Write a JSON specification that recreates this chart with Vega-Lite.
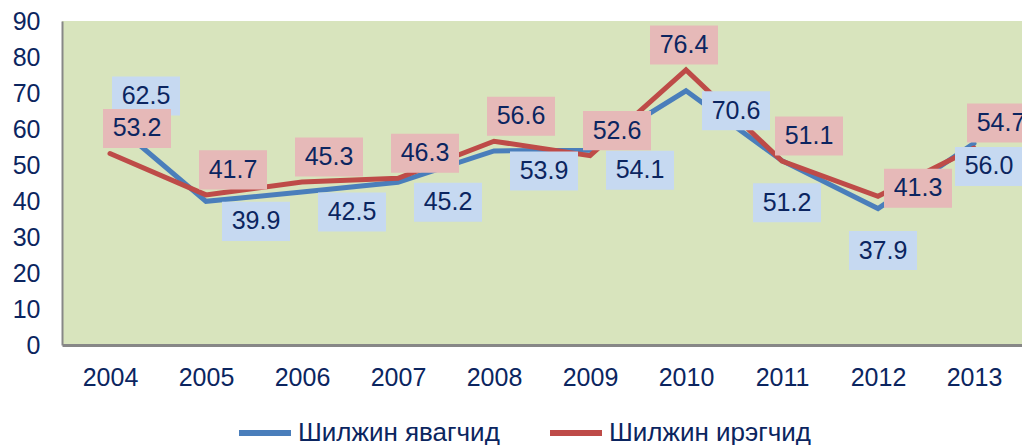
{
  "$schema": "https://vega.github.io/schema/vega-lite/v6.json",
  "width": 960,
  "height": 324,
  "autosize": "none",
  "padding": {"left": 62, "top": 21, "right": 0, "bottom": 100},
  "config": {
    "font": "Liberation Sans",
    "view": {"fill": "#d8e4bd", "stroke": null},
    "axis": {"grid": false, "ticks": false, "title": null, "labelFont": "Liberation Sans", "labelFontSize": 25, "labelColor": "#0b2560", "domainColor": "#878787"}
  },
  "datasets": {
    "d": [
      {"year": "2004", "series": "Шилжин явагчид", "value": 62.5},
      {"year": "2005", "series": "Шилжин явагчид", "value": 39.9},
      {"year": "2006", "series": "Шилжин явагчид", "value": 42.5},
      {"year": "2007", "series": "Шилжин явагчид", "value": 45.2},
      {"year": "2008", "series": "Шилжин явагчид", "value": 53.9},
      {"year": "2009", "series": "Шилжин явагчид", "value": 54.1},
      {"year": "2010", "series": "Шилжин явагчид", "value": 70.6},
      {"year": "2011", "series": "Шилжин явагчид", "value": 51.2},
      {"year": "2012", "series": "Шилжин явагчид", "value": 37.9},
      {"year": "2013", "series": "Шилжин явагчид", "value": 56.0},
      {"year": "2004", "series": "Шилжин ирэгчид", "value": 53.2},
      {"year": "2005", "series": "Шилжин ирэгчид", "value": 41.7},
      {"year": "2006", "series": "Шилжин ирэгчид", "value": 45.3},
      {"year": "2007", "series": "Шилжин ирэгчид", "value": 46.3},
      {"year": "2008", "series": "Шилжин ирэгчид", "value": 56.6},
      {"year": "2009", "series": "Шилжин ирэгчид", "value": 52.6},
      {"year": "2010", "series": "Шилжин ирэгчид", "value": 76.4},
      {"year": "2011", "series": "Шилжин ирэгчид", "value": 51.1},
      {"year": "2012", "series": "Шилжин ирэгчид", "value": 41.3},
      {"year": "2013", "series": "Шилжин ирэгчид", "value": 54.7}
    ]
  },
  "data": {"name": "d"},
  "encoding": {
    "x": {"field": "year", "type": "ordinal", "scale": {"type": "point", "padding": 0.5},
      "axis": {"labelAngle": 0, "labelPadding": 20, "domainWidth": 3}},
    "y": {"field": "value", "type": "quantitative", "scale": {"domain": [0, 90], "nice": false},
      "axis": {"values": [0,10,20,30,40,50,60,70,80,90], "labelPadding": 22, "domainWidth": 2}}
  },
  "layer": [
    {
      "transform": [{"filter": "datum.series === 'Шилжин явагчид'"}],
      "mark": {"type": "line", "strokeWidth": 5, "strokeCap": "round"},
      "encoding": {
        "color": {"field": "series", "type": "nominal",
          "scale": {"domain": ["Шилжин явагчид", "Шилжин ирэгчид"], "range": ["#4a7ebb", "#be4b48"]},
          "legend": {"orient": "none", "legendX": 174, "legendY": 383, "direction": "horizontal", "title": null,
            "symbolType": "stroke", "symbolSize": 2704, "symbolStrokeWidth": 6,
            "labelFontSize": 26, "labelColor": "#0b2560", "labelOffset": 4, "columnPadding": 38, "labelLimit": 400}}
      }
    },
    {
      "transform": [{"filter": "datum.series === 'Шилжин ирэгчид'"}],
      "mark": {"type": "line", "strokeWidth": 5, "strokeCap": "round"},
      "encoding": {"color": {"field": "series", "type": "nominal"}}
    },
    {
      "transform": [{"filter": "datum.series === 'Шилжин явагчид' && indexof(['2004','2011','2012','2013'], datum.year) < 0"}],
      "layer": [
        {"mark": {"type": "point", "shape": "M-1,-0.574L1,-0.574L1,0.574L-1,0.574Z", "size": 4624, "filled": true, "opacity": 1, "fill": "#c6d9f1", "strokeWidth": 0, "xOffset": 50, "yOffset": 20}, "encoding": {}},
        {"mark": {"type": "text", "dx": 50, "dy": 20, "fontSize": 25, "color": "#0b2560", "align": "center", "baseline": "middle"},
         "encoding": {"text": {"field": "value", "type": "quantitative", "format": ".1f"}}}
      ]
    },
    {
      "transform": [{"filter": "datum.series === 'Шилжин явагчид' && datum.year === '2004'"}],
      "layer": [
        {"mark": {"type": "point", "shape": "M-1,-0.574L1,-0.574L1,0.574L-1,0.574Z", "size": 4624, "filled": true, "opacity": 1, "fill": "#c6d9f1", "strokeWidth": 0, "xOffset": 36, "yOffset": -24}, "encoding": {}},
        {"mark": {"type": "text", "dx": 36, "dy": -24, "fontSize": 25, "color": "#0b2560", "align": "center", "baseline": "middle"},
         "encoding": {"text": {"field": "value", "type": "quantitative", "format": ".1f"}}}
      ]
    },
    {
      "transform": [{"filter": "datum.series === 'Шилжин явагчид' && (datum.year === '2011' || datum.year === '2012')"}],
      "layer": [
        {"mark": {"type": "point", "shape": "M-1,-0.574L1,-0.574L1,0.574L-1,0.574Z", "size": 4624, "filled": true, "opacity": 1, "fill": "#c6d9f1", "strokeWidth": 0, "xOffset": 5, "yOffset": 42}, "encoding": {}},
        {"mark": {"type": "text", "dx": 5, "dy": 42, "fontSize": 25, "color": "#0b2560", "align": "center", "baseline": "middle"},
         "encoding": {"text": {"field": "value", "type": "quantitative", "format": ".1f"}}}
      ]
    },
    {
      "transform": [{"filter": "datum.series === 'Шилжин явагчид' && datum.year === '2013'"}],
      "layer": [
        {"mark": {"type": "point", "shape": "M-1,-0.574L1,-0.574L1,0.574L-1,0.574Z", "size": 4624, "filled": true, "opacity": 1, "fill": "#c6d9f1", "strokeWidth": 0, "xOffset": 15, "yOffset": 23}, "encoding": {}},
        {"mark": {"type": "text", "dx": 15, "dy": 23, "fontSize": 25, "color": "#0b2560", "align": "center", "baseline": "middle"},
         "encoding": {"text": {"field": "value", "type": "quantitative", "format": ".1f"}}}
      ]
    },
    {
      "transform": [{"filter": "datum.series === 'Шилжин ирэгчид' && datum.year !== '2010' && datum.year !== '2012'"}],
      "layer": [
        {"mark": {"type": "point", "shape": "M-1,-0.574L1,-0.574L1,0.574L-1,0.574Z", "size": 4624, "filled": true, "opacity": 1, "fill": "#e6b9b8", "strokeWidth": 0, "xOffset": 27, "yOffset": -25}, "encoding": {}},
        {"mark": {"type": "text", "dx": 27, "dy": -25, "fontSize": 25, "color": "#0b2560", "align": "center", "baseline": "middle"},
         "encoding": {"text": {"field": "value", "type": "quantitative", "format": ".1f"}}}
      ]
    },
    {
      "transform": [{"filter": "datum.series === 'Шилжин ирэгчид' && datum.year === '2010'"}],
      "layer": [
        {"mark": {"type": "point", "shape": "M-1,-0.574L1,-0.574L1,0.574L-1,0.574Z", "size": 4624, "filled": true, "opacity": 1, "fill": "#e6b9b8", "strokeWidth": 0, "xOffset": -2, "yOffset": -25}, "encoding": {}},
        {"mark": {"type": "text", "dx": -2, "dy": -25, "fontSize": 25, "color": "#0b2560", "align": "center", "baseline": "middle"},
         "encoding": {"text": {"field": "value", "type": "quantitative", "format": ".1f"}}}
      ]
    },
    {
      "transform": [{"filter": "datum.series === 'Шилжин ирэгчид' && datum.year === '2012'"}],
      "layer": [
        {"mark": {"type": "point", "shape": "M-1,-0.574L1,-0.574L1,0.574L-1,0.574Z", "size": 4624, "filled": true, "opacity": 1, "fill": "#e6b9b8", "strokeWidth": 0, "xOffset": 40, "yOffset": -8}, "encoding": {}},
        {"mark": {"type": "text", "dx": 40, "dy": -8, "fontSize": 25, "color": "#0b2560", "align": "center", "baseline": "middle"},
         "encoding": {"text": {"field": "value", "type": "quantitative", "format": ".1f"}}}
      ]
    }
  ]
}
